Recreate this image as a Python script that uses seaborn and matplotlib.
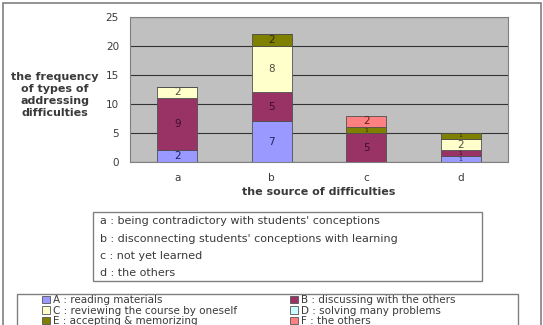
import numpy as np
import pandas as pd
import matplotlib
import matplotlib.pyplot as plt
from matplotlib.patches import Rectangle, Patch
import seaborn as sns

matplotlib.use('Agg')

# data
sources = ["a", "b", "c", "d"]
type_keys = ["A", "B", "C", "D", "E", "F"]
count_A = [2, 7, 0, 1]
count_B = [9, 5, 5, 1]
count_C = [2, 8, 0, 2]
count_D = [0, 0, 0, 0]
count_E = [0, 2, 1, 1]
count_F = [0, 0, 2, 0]

source_desc = ["a : being contradictory with students' conceptions",
               "b : disconnecting students' conceptions with learning",
               "c : not yet learned",
               "d : the others"]
type_desc = ["A : reading materials", "B : discussing with the others",
             "C : reviewing the course by oneself", "D : solving many problems",
             "E : accepting & memorizing", "F : the others"]

colors = ["#9999FF", "#993366", "#FFFFCC", "#CCFFFF", "#808000", "#FF8080"]
label_colors = ["#202060", "#3d0f28", "#505040", "#204040", "#2a2a00", "#602020"]

counts = [count_A, count_B, count_C, count_D, count_E, count_F]
df = pd.DataFrame({
    "source": np.tile(sources, len(type_keys)),
    "type": np.repeat(type_keys, len(sources)),
    "count": np.concatenate(counts),
})

sns.set_style("white")
plt.rcParams['font.family'] = ['DejaVu Sans']
txt = "#3a3a3a"

fig = plt.figure(figsize=(5.43, 3.25), dpi=100)
ax = fig.add_axes([130 / 543, 1 - 162 / 325, 378 / 543, 145 / 325])
ax.set_facecolor("#C0C0C0")

sns.histplot(data=df, x="source", hue="type", weights="count", multiple="stack",
             discrete=True, shrink=0.42, hue_order=type_keys[::-1],
             palette=dict(zip(type_keys, colors)), alpha=1, edgecolor="#505050",
             linewidth=0.6, legend=False, ax=ax, zorder=3)

# segment labels (the thin "1" segments get a small glyph, as in the original)
bottoms = np.zeros(len(sources))
for vals, lc in zip(counts, label_colors):
    for i, v in enumerate(vals):
        if v > 0:
            ax.text(i, bottoms[i] + v / 2, str(v), ha="center", va="center",
                    fontsize=7.5 if v > 1 else 4.5, color=lc, zorder=5)
    bottoms += np.array(vals)

ax.set_xlim(-0.5, 3.5)
ax.set_ylim(0, 25)
ax.set_yticks([0, 5, 10, 15, 20, 25])
ax.set_xticks(range(4))
ax.set_xticklabels(sources)
ax.set_xticks([0.5, 1.5, 2.5], minor=True)
ax.tick_params(axis="x", which="major", length=0, pad=8, labelsize=7.5, labelcolor=txt)
ax.tick_params(axis="x", which="minor", length=3, direction="in", color="#505050")
ax.tick_params(axis="y", length=0, pad=8, labelsize=7.5, labelcolor=txt)
ax.grid(axis="y", color="#333333", linewidth=0.8, zorder=1)
ax.set_axisbelow(True)
for s in ax.spines.values():
    s.set_color("#808080")
    s.set_linewidth(0.8)
ax.set_xlabel("the source of difficulties", fontsize=8, fontweight="bold",
              color=txt, labelpad=3)
ax.set_ylabel("")
fig.text(55 / 543, 1 - 95 / 325, "the frequency\nof types of\naddressing\ndifficulties",
         ha="center", va="center", fontsize=8, fontweight="bold", color=txt,
         linespacing=1.25)

# outer frame
fig.patches.append(Rectangle((3 / 543, -0.05), 538 / 543, 1.05 - 3 / 325,
                             transform=fig.transFigure, fill=False,
                             edgecolor="#808080", linewidth=1.2))

# source legend box
fig.patches.append(Rectangle((93 / 543, 1 - 281 / 325), 389 / 543, 69 / 325,
                             transform=fig.transFigure, fill=False,
                             edgecolor="#808080", linewidth=1))
for k, line in enumerate(source_desc):
    fig.text(100 / 543, 1 - (221 + 17.5 * k) / 325, line, ha="left", va="center",
             fontsize=8, color=txt)

# type legend box
fig.patches.append(Rectangle((17 / 543, -0.05), 501 / 543, 0.05 + 31 / 325,
                             transform=fig.transFigure, fill=False,
                             edgecolor="#808080", linewidth=1))
handles = [Patch(facecolor=c, edgecolor="#555555", linewidth=0.6) for c in colors]
for col, x0 in enumerate([42, 290]):
    idx = [col, col + 2, col + 4]
    fig.legend([handles[i] for i in idx], [type_desc[i] for i in idx],
               loc="upper left", bbox_to_anchor=(x0 / 543, 1 - 295 / 325),
               frameon=False, fontsize=7.5, labelspacing=0.05, handlelength=0.8,
               handleheight=0.7, handletextpad=0.3, borderpad=0, borderaxespad=0,
               labelcolor=txt)

fig.savefig("out.png", dpi=100)
